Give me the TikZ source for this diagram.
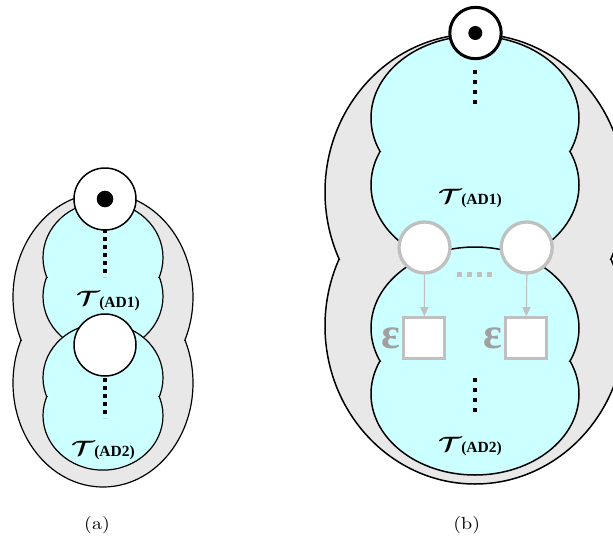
\documentclass[tikz,border=0pt]{standalone}
\usepackage{fontspec}
\usepackage{bm}
\usetikzlibrary{arrows.meta}
\newfontfamily\timesb{Liberation Serif}
\definecolor{shellgray}{HTML}{E8E8E8}
\definecolor{cyanfill}{HTML}{CCFFFF}
\definecolor{ghost}{HTML}{C0C0C0}
\definecolor{epsgray}{HTML}{A0A0A0}
% two vertically stacked ellipses of equal width, joined at a notch
% #1 fill, #2 line width, #3 cx, #4 cy upper, #5 cy lower, #6 rx, #7 ry, #8 notch y
\newcommand\lobepair[8]{%
  \fill[#1] (#3,#4) ellipse[x radius=#6pt, y radius=#7pt]
            (#3,#5) ellipse[x radius=#6pt, y radius=#7pt];
  \begin{scope}
    \clip (#3-#6-5,#4-#7-5) rectangle (#3+#6+5,#8);
    \draw[line width=#2] (#3,#4) ellipse[x radius=#6pt, y radius=#7pt];
  \end{scope}
  \begin{scope}
    \clip (#3-#6-5,#8) rectangle (#3+#6+5,#5+#7+5);
    \draw[line width=#2] (#3,#5) ellipse[x radius=#6pt, y radius=#7pt];
  \end{scope}}
\newcommand\tlabel[1]{{\fontsize{20}{20}\selectfont\scalebox{1.25}[1]{$\bm{\mathcal{T}}$}}\kern-0.5pt\raisebox{-1.5pt}{\timesb\bfseries\fontsize{15.5}{15.5}\selectfont(#1)}}
\newcommand\captext[1]{\scalebox{2.0}[1.75]{#1}}
\tikzset{
  blackring/.style={circle, draw=black, fill=white, inner sep=0pt},
  blackdot/.style={circle, fill=black, inner sep=0pt},
  ghostring/.style={circle, draw=ghost, fill=white, line width=3.3pt, minimum size=51pt, inner sep=0pt},
  ghostbox/.style={rectangle, draw=ghost, fill=white, line width=3.3pt, minimum size=41pt, inner sep=0pt},
  ghostarrow/.style={draw=ghost, line width=1.2pt, -{Triangle[length=9pt,width=8pt]}},
  epsmark/.style={text=epsgray, inner sep=0pt},
  labeltxt/.style={anchor=base west, inner sep=0pt},
  captxt/.style={inner sep=0pt}
}
\begin{document}
\begin{tikzpicture}[x=1pt,y=-1pt]
\useasboundingbox (0,0) rectangle (613,543);
\clip (0,0) rectangle (613,543);
\fill[white] (0,0) rectangle (613,543);

% ---------------- (a) ----------------
\lobepair{shellgray}{1.2pt}{103}{297}{383}{90}{104}{340}
\lobepair{cyanfill}{1.2pt}{103}{257.7}{296.3}{60}{55.7}{277}
\lobepair{cyanfill}{1.2pt}{103}{377.8}{415.6}{60}{54.5}{396.7}
\draw[line width=4pt, dash pattern=on 4pt off 4pt] (105,229) -- (105,277);
\draw[line width=4pt, dash pattern=on 4pt off 4pt] (105,370) -- (105,418);
\node[blackring, line width=1.5pt, minimum size=62pt] (atop) at (105,199) {};
\node[blackdot, minimum size=16.6pt] (atopdot) at (105,199) {};
\node[blackring, line width=1.5pt, minimum size=62pt] (amid) at (105,345) {};
\node[labeltxt] (aT1) at (76,305.5) {\tlabel{AD1}};
\node[labeltxt] (aT2) at (71,455) {\tlabel{AD2}};
\node[captxt] (capa) at (97,525) {\captext{(a)}};

% ---------------- (b) ----------------
\lobepair{shellgray}{1.5pt}{475}{192}{326}{150}{158}{259}
\lobepair{cyanfill}{1.5pt}{475}{118}{185}{104}{82}{151.5}
\lobepair{cyanfill}{1.5pt}{475}{328}{394}{104}{81}{361}
\draw[line width=4pt, dash pattern=on 4pt off 6pt] (474.7,70) -- (474.7,104);
\draw[line width=4pt, dash pattern=on 4pt off 6pt] (474.7,378) -- (474.7,412);
\node[blackring, line width=3pt, minimum size=51.4pt] (btop) at (475.5,33) {};
\node[blackdot, minimum size=14pt] (btopdot) at (475.3,33) {};
\node[ghostring] (g1) at (424.5,247.5) {};
\node[ghostring] (g2) at (526.7,247.5) {};
\draw[ghost, line width=4.4pt, dash pattern=on 4.4pt off 5.6pt] (457.3,274.5) -- (491.7,274.5);
\node[ghostbox] (s1) at (424.3,338.3) {};
\node[ghostbox] (s2) at (526.3,338.3) {};
\draw[ghostarrow] (g1.south) -- (s1.north);
\draw[ghostarrow] (g2.south) -- (s2.north);
\node[epsmark] (e1) at (391,338) {\timesb\bfseries\fontsize{44}{44}\selectfont ε};
\node[epsmark] (e2) at (492.5,338) {\timesb\bfseries\fontsize{44}{44}\selectfont ε};
\node[labeltxt] (bT1) at (438,203) {\tlabel{AD1}};
\node[labeltxt] (bT2) at (438,451) {\tlabel{AD2}};
\node[captxt] (capb) at (466.7,525) {\captext{(b)}};
\end{tikzpicture}
\end{document}
